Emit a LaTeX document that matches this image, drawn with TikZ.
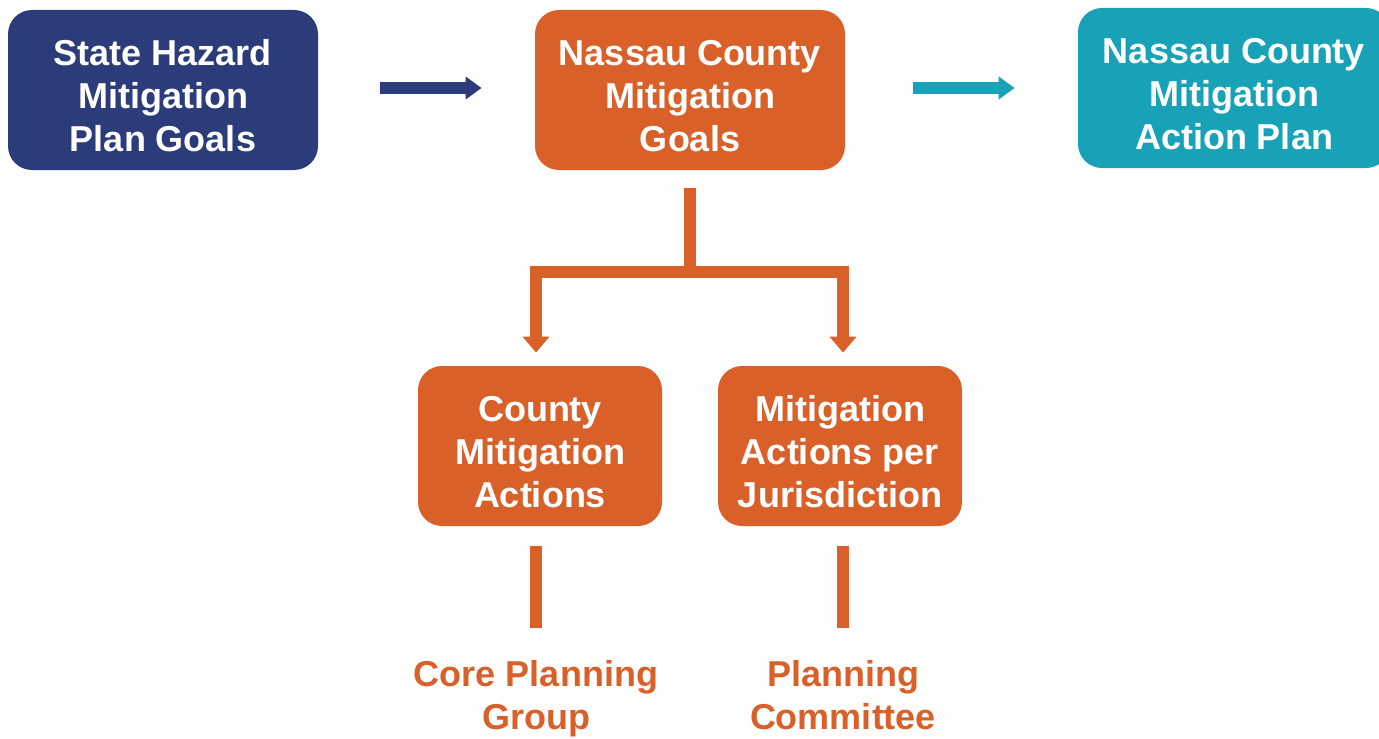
\documentclass[tikz,border=0pt]{standalone}
\usepackage{fontspec}
\setmainfont{Liberation Sans}
\usetikzlibrary{arrows.meta,positioning}
\definecolor{stateblue}{RGB}{44,60,122}
\definecolor{nassauorange}{RGB}{217,96,41}
\definecolor{planteal}{RGB}{23,162,184}
\newcommand{\toplift}{\rule{0pt}{19pt}}

\begin{document}
\begin{tikzpicture}[
  x=0.5pt, y=-0.5pt,
  goalbox/.style={rounded corners=12pt, minimum width=155pt, minimum height=80pt,
    align=center, text=white, font=\fontsize{18}{21.5}\selectfont\bfseries, inner sep=0pt},
  actionbox/.style={goalbox, minimum width=122pt, fill=nassauorange},
  flow/.style={line width=6pt, -{Triangle[length=8pt,width=11pt]}},
  branch/.style={line width=6pt, draw=nassauorange},
  owner/.style={text=nassauorange, align=center, font=\fontsize{18}{21.5}\selectfont\bfseries,
    execute at end node={\strut}}
]
\useasboundingbox (0,0) rectangle (1379,738);
% top row
\node[goalbox, fill=stateblue] (state) at (163,90) {\toplift State Hazard\\Mitigation\\Plan Goals};
\node[goalbox, fill=nassauorange] (goals) at (690,90) {\toplift Nassau County\\Mitigation\\Goals};
\node[goalbox, fill=planteal, minimum width=156pt] (plan) at (1234,88) {\toplift Nassau County\\Mitigation\\Action Plan};
\draw[flow, stateblue] ([xshift=31pt]state.east |- plan) -- ([xshift=-26.5pt]goals.west |- plan);
\draw[flow, planteal] ([xshift=34pt]goals.east |- plan) -- ([xshift=-31.5pt]plan.west);
% actions
\node[actionbox] (county) at (540,446) {\toplift County\\Mitigation\\Actions};
\node[actionbox] (juris) at (840,446) {\toplift Mitigation\\Actions per\\Jurisdiction};
\coordinate (fork) at (690,272);
\coordinate (lfork) at (536,272);
\coordinate (rfork) at (843,272);
\draw[branch] ([yshift=-9pt]goals.south) -- (fork);
\draw[branch, {Triangle[length=8pt,width=13pt]}-{Triangle[length=8pt,width=13pt]}]
  ([yshift=6.5pt]county.north -| lfork) -- (lfork) -- (rfork) -- ([yshift=6.5pt]juris.north -| rfork);
% owners
\node[owner] (core) at (536,701) {Core Planning\\Group};
\node[owner] (committee) at (843,701) {Planning\\Committee};
\draw[branch] ([yshift=-10pt]county.south -| core) -- ++(0,82);
\draw[branch] ([yshift=-10pt]juris.south -| committee) -- ++(0,82);
\end{tikzpicture}
\end{document}
